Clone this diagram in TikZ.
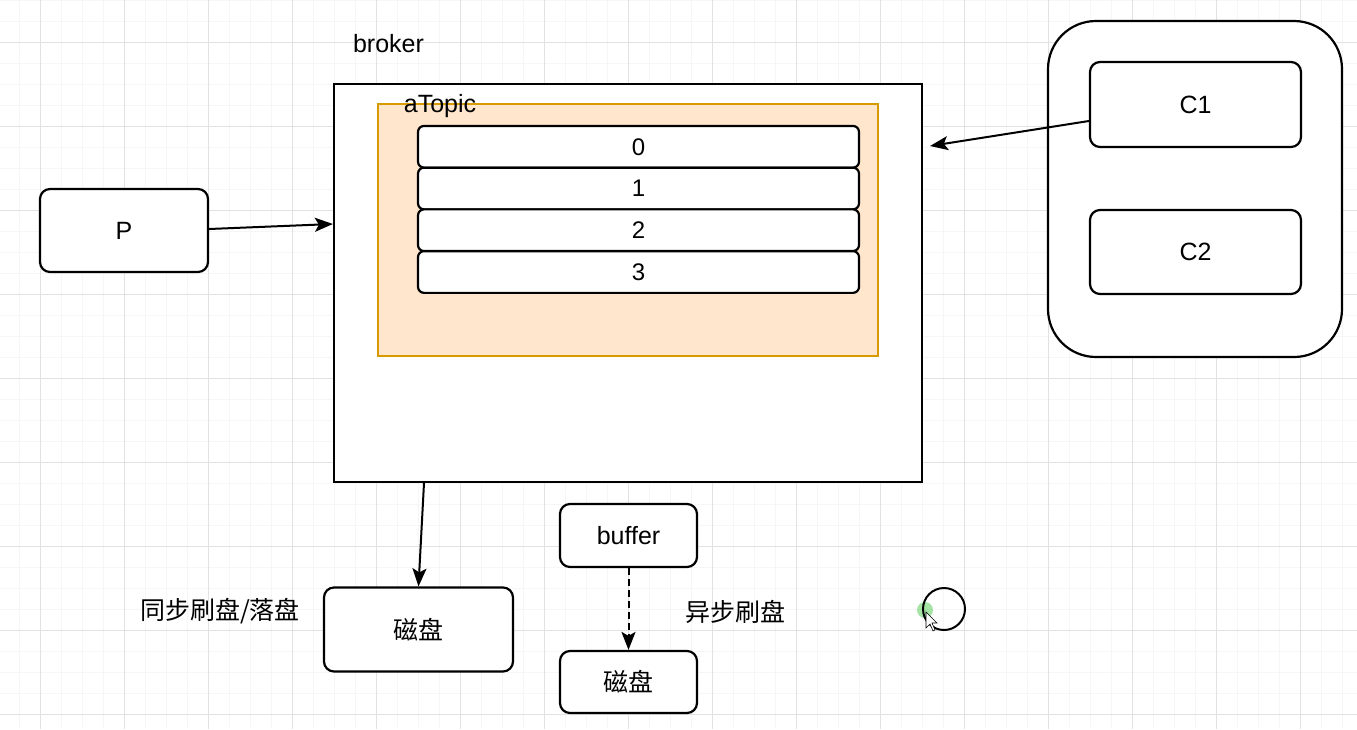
\documentclass[tikz,border=0pt]{standalone}
\usepackage{fontspec}
\setmainfont{Liberation Sans}
\newfontfamily\cjk{Noto Sans CJK SC}
\usetikzlibrary{arrows.meta}
\definecolor{topicfill}{RGB}{255,230,204}
\definecolor{topicdraw}{RGB}{215,155,0}
\definecolor{gridminor}{RGB}{246,246,246}
\definecolor{gridmajor}{RGB}{226,226,226}
\begin{document}
\begin{tikzpicture}[x=1pt,y=-1pt,
  box/.style={draw=black, line width=2.2pt, rounded corners=10pt, fill=white, inner sep=0pt, font=\fontsize{25}{29}\selectfont},
  part/.style={draw=black, line width=2.2pt, rounded corners=6pt, fill=white, inner sep=0pt, minimum width=441pt, minimum height=41.7pt, font=\fontsize{24}{28}\selectfont},
  lbl/.style={inner sep=0pt, font=\fontsize{25}{29}\selectfont},
  cjklbl/.style={inner sep=0pt, font=\cjk\fontsize{25}{29}\selectfont},
  arr/.style={-{Stealth[length=18pt,width=14pt,inset=4pt]}, line width=2pt}]
\useasboundingbox (0,0) rectangle (1357,729);
\fill[white] (0,0) rectangle (1357,729);
% grid
\foreach \i in {0,...,65} {\draw[gridminor, line width=1pt] ({-2+21*\i},0) -- ({-2+21*\i},729);}
\foreach \i in {0,...,34} {\draw[gridminor, line width=1pt] (0,{21*\i}) -- (1357,{21*\i});}
\foreach \i in {0,...,17} {\draw[gridmajor, line width=1pt] ({-44+84*\i},0) -- ({-44+84*\i},729);}
\foreach \i in {0,...,9} {\draw[gridmajor, line width=1pt] (0,{-42+84*\i}) -- (1357,{-42+84*\i});}

% broker
\node[lbl] (brokerlbl) at (388.5,44) {broker};
\node[draw=black, fill=white, line width=2.2pt, inner sep=0pt, minimum width=588pt, minimum height=398pt] (broker) at (628,283) {};
\node[draw=topicdraw, fill=topicfill, line width=2pt, inner sep=0pt, minimum width=500pt, minimum height=252pt] (topic) at (628,230) {};
\node[lbl] (topiclbl) at (440,106) {aTopic};
\node[part] (p0) at (638.5,146.8) {0};
\node[part] (p1) at (638.5,188.5) {1};
\node[part] (p2) at (638.5,230.2) {2};
\node[part] (p3) at (638.5,272) {3};

% producer
\node[box, minimum width=168pt, minimum height=83pt] (P) at (124,230.5) {P};
\draw[arr] (P.east |- 0,229) -- (broker.west |- 0,224);

% consumers
\node[box, rounded corners=48pt, minimum width=294pt, minimum height=336pt] (cg) at (1195,189) {};
\node[box, minimum width=211pt, minimum height=85pt] (C1) at (1195.5,104.5) {C1};
\node[box, minimum width=211pt, minimum height=84pt] (C2) at (1195.5,252) {C2};
\coordinate (cin) at (930,146);
\draw[arr] (C1.west |- 0,121) -- (cin);

% disks
\node[box, minimum width=189pt, minimum height=84pt] (disk1) at (418.5,629.5) {\cjk 磁盘};
\draw[arr] ([xshift=-204pt]broker.south) -- (disk1.north);
\node[cjklbl] (synclbl) at (220,611) {同步刷盘/落盘};

\node[box, minimum width=137pt, minimum height=63pt] (buffer) at (628.5,535.5) {buffer};
\node[box, minimum width=137pt, minimum height=62pt] (disk2) at (628.5,682) {\cjk 磁盘};
\draw[arr, dash pattern=on 7pt off 4pt] (buffer) -- (disk2);
\node[cjklbl] (asynclbl) at (735,612) {异步刷盘};

% selected circle
\fill[green!70!black, opacity=0.35] (925,610) circle (8);
\node[circle, draw=black, line width=2pt, minimum size=42pt, inner sep=0pt] (circ) at (944,609) {};
\draw[black, fill=white, line width=0.6pt] (926,612) -- (926,628) -- (930,624) -- (933,631) -- (935,630) -- (932,623) -- (937,623) -- cycle;
\end{tikzpicture}
\end{document}
